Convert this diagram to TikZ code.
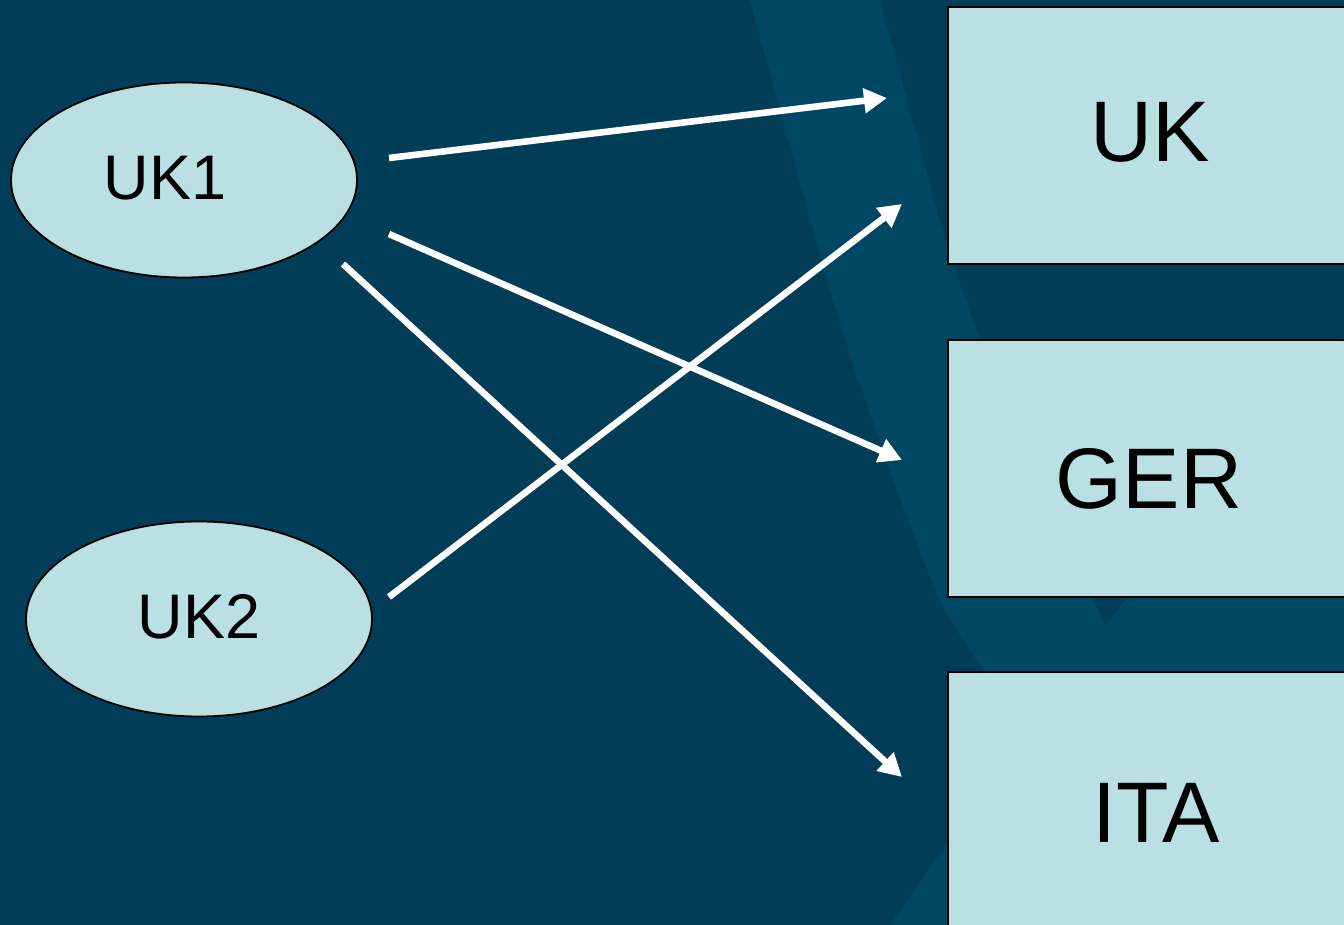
\documentclass[tikz,border=0pt]{standalone}
\usepackage{fontspec}
\setmainfont{Liberation Sans}
\usetikzlibrary{shapes.geometric,arrows.meta}
\definecolor{bgdark}{RGB}{2,61,88}
\definecolor{bglight}{RGB}{0,71,100}
\definecolor{boxfill}{RGB}{186,224,227}
\tikzset{
  oval/.style={ellipse, draw=black, line width=0.9pt, fill=boxfill, inner sep=0pt,
    minimum width=173pt, minimum height=97.5pt},
  cbox/.style={draw=black, line width=1pt, fill=boxfill},
  smalltxt/.style={font=\fontsize{31.5pt}{38pt}\selectfont, text=black, inner sep=0pt},
  bigtxt/.style={font=\fontsize{43pt}{50pt}\selectfont, text=black, inner sep=0pt, anchor=base},
  link/.style={draw=white, line width=3.3pt, -{Triangle[length=11.5pt,width=12pt]}}
}
\begin{document}
\begin{tikzpicture}[x=0.5pt,y=-0.5pt]
\useasboundingbox (0,0) rectangle (1344,925);
% background
\fill[bgdark] (0,0) rectangle (1344,925);
\fill[bglight] plot[smooth] coordinates {(750,0) (833,300) (883,450) (940,600) (1000,700) (1008,770) (948,843) (890,925)} -- (1344,925) -- (1344,0) -- cycle;
\fill[bgdark] (880,0) -- (948,250) -- (980,340) -- (1105,625) -- (1344,335) -- (1344,0) -- cycle;
% boxes
\path[cbox] (948,7) rectangle (1360,264);
\path[cbox] (948,340) rectangle (1360,597);
\path[cbox] (948,672) rectangle (1360,940);
\coordinate (bUK) at (1150,162);
\coordinate (bGER) at (1149,508);
\coordinate (bITA) at (1156,842);
\node[bigtxt] (tUK) at (bUK) {UK};
\node[bigtxt] (tGER) at (bGER) {GER};
\node[bigtxt] (tITA) at (bITA) {ITA};
% ovals
\node[oval] (uk1) at (184,180) {};
\node[oval] (uk2) at (199,619) {};
\node[smalltxt, anchor=base] (luk1) at (165,200) {UK1};
\node[smalltxt, anchor=base] (luk2) at (199,638) {UK2};
% arrow end points
\coordinate (s1) at (389,158);
\coordinate (e1) at (887,98);
\coordinate (s2) at (389,234);
\coordinate (e2) at (902,460);
\coordinate (s3) at (343,264);
\coordinate (e3) at (902,777);
\coordinate (s4) at (389,597);
\coordinate (e4) at (902,204);
\draw[link] (s1) -- (e1);
\draw[link] (s2) -- (e2);
\draw[link] (s3) -- (e3);
\draw[link] (s4) -- (e4);
\end{tikzpicture}
\end{document}
